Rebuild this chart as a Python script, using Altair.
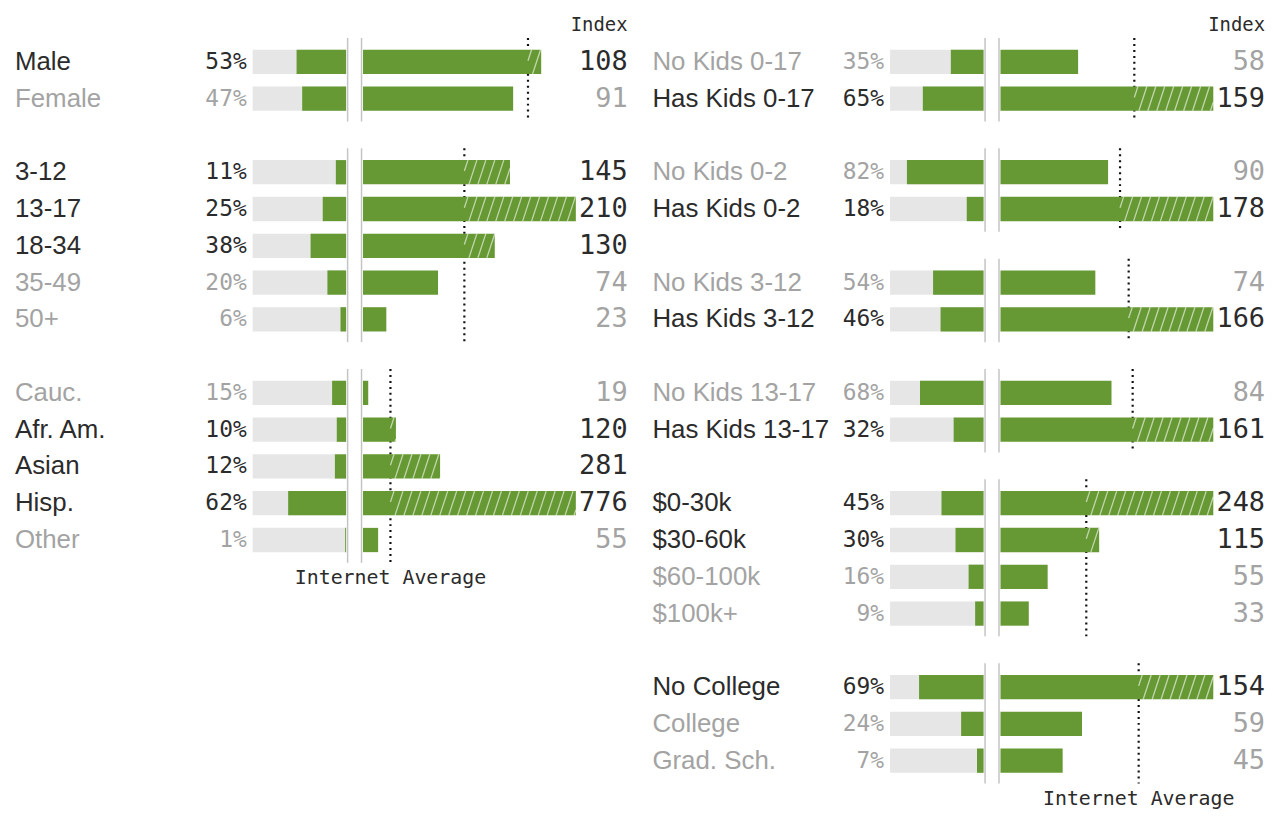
import altair as alt
import pandas as pd

# ---------------- data ----------------
gender_labels = ["Male", "Female"]
gender_pct = [53, 47]
gender_index = [108, 91]

age_labels = ["3-12", "13-17", "18-34", "35-49", "50+"]
age_pct = [11, 25, 38, 20, 6]
age_index = [145, 210, 130, 74, 23]

eth_labels = ["Cauc.", "Afr. Am.", "Asian", "Hisp.", "Other"]
eth_pct = [15, 10, 12, 62, 1]
eth_index = [19, 120, 281, 776, 55]

kids017_labels = ["No Kids 0-17", "Has Kids 0-17"]
kids017_pct = [35, 65]
kids017_index = [58, 159]

kids02_labels = ["No Kids 0-2", "Has Kids 0-2"]
kids02_pct = [82, 18]
kids02_index = [90, 178]

kids312_labels = ["No Kids 3-12", "Has Kids 3-12"]
kids312_pct = [54, 46]
kids312_index = [74, 166]

kids1317_labels = ["No Kids 13-17", "Has Kids 13-17"]
kids1317_pct = [68, 32]
kids1317_index = [84, 161]

income_labels = ["$0-30k", "$30-60k", "$60-100k", "$100k+"]
income_pct = [45, 30, 16, 9]
income_index = [248, 115, 55, 33]

edu_labels = ["No College", "College", "Grad. Sch."]
edu_pct = [69, 24, 7]
edu_index = [154, 59, 45]

header_text = "Index"
note_text = "Internet Average"

LEFT_GROUPS = [
    (gender_labels, gender_pct, gender_index),
    (age_labels, age_pct, age_index),
    (eth_labels, eth_pct, eth_index),
]
RIGHT_GROUPS = [
    (kids017_labels, kids017_pct, kids017_index),
    (kids02_labels, kids02_pct, kids02_index),
    (kids312_labels, kids312_pct, kids312_index),
    (kids1317_labels, kids1317_pct, kids1317_index),
    (income_labels, income_pct, income_index),
    (edu_labels, edu_pct, edu_index),
]

# ---------------- styling / layout ----------------
GREEN = "#669933"
GRAY_BAR = "#e6e6e6"
DIVIDER = "#c4c4c4"
DARK = "#2b2b2b"
LIGHT = "#a3a3a3"
SANS = "Liberation Sans"
MONO = "DejaVu Sans Mono"

ROW_PX = 37
BAR_HALF = 0.33
SPAN_TOP = 0.65
SPAN_BOT = 0.62
MIN_SCALE = 129
W_PCT = 94
W_IDX = 214
GAP = 17
Y0, Y1 = -1.405, 20.2
H = round((Y1 - Y0) * ROW_PX)


def frames(groups):
    rows, spans = [], []
    r = 0
    for gi, (labels, pcts, idxs) in enumerate(groups):
        gmax = max(max(idxs), MIN_SCALE)
        first = r
        for lab, p, ix in zip(labels, pcts, idxs):
            rows.append(dict(group=gi, row=r, label=lab, pct=p, idx=ix, gmax=gmax))
            r += 1
        spans.append(dict(group=gi, top=first - SPAN_TOP, bot=r - 1 + SPAN_BOT,
                          avg=100.0 / gmax, zero=0.0))
        r += 1
    rows = pd.DataFrame(rows)
    rows["yt"] = rows["row"] - BAR_HALF
    rows["yb"] = rows["row"] + BAR_HALF
    rows["zero"] = 0.0
    rows["one"] = 1.0
    rows["share"] = rows["pct"] / 100.0
    rows["frac"] = rows["idx"] / rows["gmax"]
    rows["pct_txt"] = rows["pct"].astype(str) + "%"
    spans = pd.DataFrame(spans)
    return rows, spans


def hatch_frame(rows):
    sp = 9.0 / W_IDX
    dx = 8.0 / W_IDX
    segs = []
    for _, d in rows[rows["idx"] > 100].iterrows():
        a = 100.0 / d["gmax"]
        b = d["idx"] / d["gmax"]
        yb = d["row"] + BAR_HALF
        yt = d["row"] - BAR_HALF
        x0 = a - dx + 0.4 * sp
        while x0 < b:
            tlo = max(0.0, (a - x0) / dx)
            thi = min(1.0, (b - x0) / dx)
            if thi > tlo:
                segs.append(dict(hx=x0 + tlo * dx, hx2=x0 + thi * dx,
                                 hy=yb + tlo * (yt - yb), hy2=yb + thi * (yt - yb)))
            x0 += sp
    return pd.DataFrame(segs)


def panel(groups):
    rows, spans = frames(groups)
    hatch = hatch_frame(rows)
    last = spans.tail(1).copy()
    last["note_row"] = last["bot"] + 0.42
    last["note"] = note_text
    header = pd.DataFrame({"row": [-1.0], "text": [header_text]})

    ys = alt.Scale(domain=[Y0, Y1], reverse=True, nice=False, zero=False)
    xp = alt.Scale(domain=[0, 1], reverse=True, nice=False, zero=False)
    xi = alt.Scale(domain=[0, 1], nice=False, zero=False)
    emph = alt.condition("datum.idx > 100", alt.value(DARK), alt.value(LIGHT))

    rb = alt.Chart(rows)
    sb = alt.Chart(spans)

    pct_chart = alt.layer(
        rb.mark_rect(color=GRAY_BAR).encode(
            x=alt.X("zero:Q", scale=xp, axis=None), x2="one",
            y=alt.Y("yt:Q", scale=ys, axis=None), y2="yb"),
        rb.mark_rect(color=GREEN).encode(
            x=alt.X("zero:Q", scale=xp, axis=None), x2="share",
            y=alt.Y("yt:Q", scale=ys, axis=None), y2="yb"),
        sb.mark_rule(color=DIVIDER, strokeWidth=1.5, xOffset=1.5).encode(
            x=alt.X("zero:Q", scale=xp, axis=None),
            y=alt.Y("top:Q", scale=ys, axis=None), y2="bot"),
        rb.mark_text(align="left", baseline="middle", font=SANS, fontSize=26).encode(
            x=alt.value(-239), y=alt.Y("row:Q", scale=ys, axis=None),
            text="label:N", color=emph),
        rb.mark_text(align="right", baseline="middle", font=MONO, fontSize=23).encode(
            x=alt.value(-6), y=alt.Y("row:Q", scale=ys, axis=None),
            text="pct_txt:N", color=emph),
    ).properties(width=W_PCT, height=H)

    idx_chart = alt.layer(
        sb.mark_rule(color="#111111", strokeWidth=2.2, strokeDash=[2, 4]).encode(
            x=alt.X("avg:Q", scale=xi, axis=None),
            y=alt.Y("top:Q", scale=ys, axis=None), y2="bot"),
        sb.mark_rule(color=DIVIDER, strokeWidth=1.5, xOffset=-1.5).encode(
            x=alt.X("zero:Q", scale=xi, axis=None),
            y=alt.Y("top:Q", scale=ys, axis=None), y2="bot"),
        rb.mark_rect(color=GREEN).encode(
            x=alt.X("zero:Q", scale=xi, axis=None), x2="frac",
            y=alt.Y("yt:Q", scale=ys, axis=None), y2="yb"),
        alt.Chart(hatch).mark_rule(color="white", strokeWidth=1.3, opacity=0.6).encode(
            x=alt.X("hx:Q", scale=xi, axis=None), x2="hx2",
            y=alt.Y("hy:Q", scale=ys, axis=None), y2="hy2"),
        rb.mark_text(align="right", baseline="middle", font=MONO, fontSize=27).encode(
            x=alt.value(W_IDX + 52), y=alt.Y("row:Q", scale=ys, axis=None),
            text=alt.Text("idx:Q", format="d"), color=emph),
        alt.Chart(header).mark_text(align="right", baseline="middle", font=MONO,
                                    fontSize=19, color=DARK).encode(
            x=alt.value(W_IDX + 52), y=alt.Y("row:Q", scale=ys, axis=None),
            text="text:N"),
        alt.Chart(last).mark_text(align="center", baseline="middle", font=MONO,
                                  fontSize=20, color=DARK).encode(
            x=alt.X("avg:Q", scale=xi, axis=None),
            y=alt.Y("note_row:Q", scale=ys, axis=None), text="note:N"),
    ).properties(width=W_IDX, height=H)

    return alt.hconcat(pct_chart, idx_chart, spacing=GAP, bounds="flush").resolve_scale(
        x="independent", y="independent")


left = panel(LEFT_GROUPS)
right = panel(RIGHT_GROUPS)

chart = (
    alt.hconcat(left, right, spacing=25, bounds="full")
    .resolve_scale(x="independent", y="independent")
    .properties(padding={"left": 7, "top": 0, "right": 0, "bottom": 0})
    .configure_view(stroke=None)
)

chart.save("out.html", embed_options={"renderer": "svg", "actions": False})
